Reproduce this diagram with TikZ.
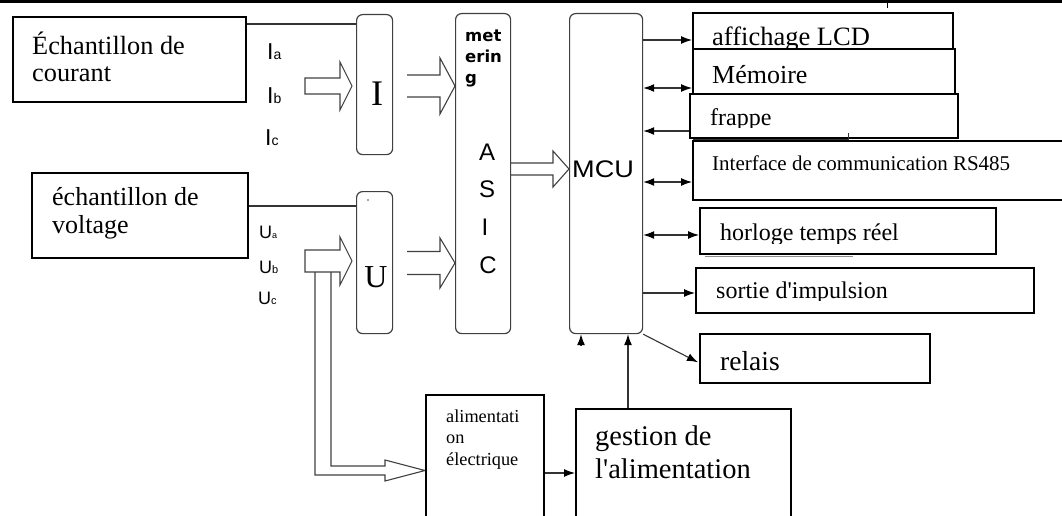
\documentclass[tikz,border=0pt]{standalone}
\usepackage{fontspec}
\usepackage{graphicx}
\setmainfont{Liberation Serif}
\newfontfamily\arialf{Liberation Sans}
\newfontfamily\dejab{DejaVu Sans}
\usetikzlibrary{arrows.meta,calc}
\newcommand\fs[1]{\fontsize{#1}{#1}\selectfont}
\newcommand\hollowC[6]{\draw[hol] (#1,#4-#5) -- (#2,#4-#5) -- (#2,#4-#6) -- (#3,#4) -- (#2,#4+#6) -- (#2,#4+#5) -- (#1,#4+#5) -- cycle;}
\newcommand\hollowO[6]{\draw[hol] (#1,#4-#5) -- (#2,#4-#5) -- (#2,#4-#6) -- (#3,#4) -- (#2,#4+#6) -- (#2,#4+#5) -- (#1,#4+#5);}
\begin{document}
\begin{tikzpicture}[x=1pt,y=-1pt,
  wbox/.style={draw=black,line width=1.6pt,fill=white,inner sep=0pt,anchor=north west},
  rbox/.style={draw=black!75,line width=1.2pt,rounded corners=6pt,inner sep=0pt,anchor=north west},
  txt/.style={anchor=base west,inner sep=0pt},
  ctxt/.style={anchor=base,inner sep=0pt},
  conn/.style={draw=black!80,line width=1.1pt},
  arr/.style={conn,-{Latex[length=11pt,width=8pt,black]}},
  barr/.style={conn,{Latex[length=11pt,width=8pt,black]}-{Latex[length=11pt,width=8pt,black]}},
  hol/.style={draw=black!75,line width=1.1pt,line join=miter},
  shadow/.style={draw=black!45,line width=1pt},
]
\useasboundingbox (0,0) rectangle (1062,516);
\fill (0,0) rectangle (1062,3.5);
\draw[line width=1pt] (887,3) -- (887,8);

% left boxes
\node[wbox,minimum width=233pt,minimum height=85pt] (cour) at (12,16) {};
\node[txt,font=\fs{26.3}] (cour1) at (32,55) {Échantillon de};
\node[txt,font=\fs{26.3}] (cour2) at (32,82) {courant};
\node[wbox,minimum width=216pt,minimum height=85pt] (volt) at (31,172) {};
\node[txt,font=\fs{26}] (volt1) at (52,205) {échantillon de};
\node[txt,font=\fs{26}] (volt2) at (52,233) {voltage};

% phase labels
\node[txt,font=\arialf\fs{23}] (ia) at (267,60) {I{\fs{14}a}};
\node[txt,font=\arialf\fs{23}] (ib) at (267,103) {I{\fs{14}b}};
\node[txt,font=\arialf\fs{23}] (ic) at (265,146) {I{\fs{14}c}};
\node[txt,font=\arialf\fs{18}] (ua) at (259,238) {U{\fs{9}a}};
\node[txt,font=\arialf\fs{18}] (ub) at (259,273) {U{\fs{11}b}};
\node[txt,font=\arialf\fs{18}] (uc) at (258,304) {U{\fs{11}c}};

% rounded blocks
\node[rbox,minimum width=36pt,minimum height=140pt] (Ibox) at (356,14) {};
\node[ctxt,font=\fs{36}] (Itxt) at (377,106) {I};
\node[rbox,minimum width=36pt,minimum height=142pt] (Ubox) at (356,191) {};
\node[ctxt,font=\fs{32}] (Utxt) at (376,287) {U};
\fill[black!70] (368,200) circle (0.9pt);
\node[rbox,minimum width=55pt,minimum height=320pt] (asic) at (455,13) {};
\node[txt,font=\dejab\bfseries\fs{16.5}] (met1) at (465,42) {met};
\node[txt,font=\dejab\bfseries\fs{16.5}] (met2) at (465,63) {erin};
\node[txt,font=\dejab\bfseries\fs{16.5}] (met3) at (465,84) {g};
\node[ctxt,font=\arialf\fs{24}] (asA) at (487,160) {A};
\node[ctxt,font=\arialf\fs{24}] (asS) at (487,197.5) {S};
\node[ctxt,font=\arialf\fs{24}] (asI) at (485,235) {I};
\node[ctxt,font=\arialf\fs{24}] (asC) at (488,273) {C};
\node[rbox,minimum width=73pt,minimum height=320pt] (mcu) at (569,13) {};
\node[txt,font=\arialf\fs{24}] (mcutxt) at (572,177) {\scalebox{1.13}[1]{MCU}};

% hollow arrows
\hollowC{305}{340}{352}{86}{8}{24}
\hollowO{407}{440}{455}{86}{11}{28}
\hollowC{305}{340}{352}{261}{11}{24}
\hollowO{407}{440}{455}{263}{11.5}{25}
\hollowO{510}{553}{569}{169}{6}{18}
\draw[hol] (315,272) -- (315,475) -- (385,475) -- (385,481) -- (425,470.5) -- (385,460) -- (385,466) -- (331,466) -- (331,272);

% connectors from sample boxes
\draw[conn] ($(cour.north east)+(0,8)$) coordinate (c1) -- (c1 -| Ibox.west);
\draw[conn] ($(volt.north east)+(0,34)$) coordinate (v1) -- (v1 -| Ubox.west);

% right boxes
\node[wbox,minimum width=260pt,minimum height=40pt] (lcd) at (692,12) {};
\node[txt,font=\fs{26.5}] (lcdt) at (712,46) {affichage LCD};
\node[wbox,minimum width=262pt,minimum height=45pt] (mem) at (692,48) {};
\node[txt,font=\fs{26}] (memt) at (712,84) {Mémoire};
\node[wbox,minimum width=268pt,minimum height=44pt] (frap) at (689,93) {};
\begin{scope}
\clip (690,95) rectangle (955,127.5);
\node[txt,font=\fs{24}] (frapt) at (710,125) {frappe};
\end{scope}
\draw[black!80,line width=1pt] (693,139) -- (848,139) (848,133) -- (848,140);
\node[wbox,minimum width=380pt,minimum height=59pt] (rs) at (692,140) {};
\node[txt,font=\fs{21}] (rst) at (712,170) {Interface de communication RS485};
\draw[shadow] (705,256) -- (853,256);
\node[wbox,minimum width=296pt,minimum height=46pt] (hor) at (699,207) {};
\begin{scope}
\clip (700,209) rectangle (993,243);
\node[txt,font=\fs{24}] (hort) at (720,240) {horloge temps réel};
\end{scope}
\draw[shadow] (705,313.5) -- (800,313.5);
\node[wbox,minimum width=338pt,minimum height=45pt] (sor) at (695,267) {};
\begin{scope}
\clip (696,269) rectangle (1031,300.5);
\node[txt,font=\fs{24}] (sort) at (716,298) {sortie d\textquotesingle impulsion};
\end{scope}
\node[wbox,minimum width=230pt,minimum height=49pt] (rel) at (699,333) {};
\node[txt,font=\fs{27.5}] (relt) at (720,370) {relais};

% bottom boxes
\node[wbox,minimum width=118pt,minimum height=140pt] (alim) at (425,394) {};
\node[txt,font=\fs{18.3}] (alim1) at (446,422) {alimentati};
\node[txt,font=\fs{18.3}] (alim2) at (446,443) {on};
\node[txt,font=\fs{18.3}] (alim3) at (446,465) {électrique};
\node[wbox,minimum width=215pt,minimum height=130pt] (gest) at (575,408) {};
\node[txt,font=\fs{28.5}] (gest1) at (595,445) {gestion de};
\node[txt,font=\fs{28.5}] (gest2) at (595,478) {l\textquotesingle alimentation};

% MCU connectors
\draw[arr] ($(mcu.north east)+(0,27)$) coordinate (m1) -- (m1 -| lcd.west);
\draw[barr] ($(mcu.north east)+(0,75)$) coordinate (m2) -- (m2 -| mem.west);
\draw[arr] ($(frap.north west)+(0,38)$) coordinate (m3) -- (m3 -| mcu.east);
\draw[barr] ($(mcu.north east)+(0,169)$) coordinate (m4) -- (m4 -| rs.west);
\draw[barr] ($(mcu.north east)+(0,222)$) coordinate (m5) -- (m5 -| hor.west);
\draw[arr] ($(mcu.north east)+(0,280)$) coordinate (m6) -- (m6 -| sor.west);
\draw[arr] (mcu.south east) -- ($(rel.west)+(-1,4)$);
\draw[arr] ($(gest.north west)+(53,0)$) coordinate (g1) -- (g1 |- mcu.south);
\draw[arr] ($(mcu.south west)+(12,11.5)$) coordinate (t1) -- (t1 |- mcu.south);
\draw[arr] ($(alim.north east)+(0,79)$) coordinate (a1) -- (a1 -| gest.west);
\end{tikzpicture}
\end{document}
